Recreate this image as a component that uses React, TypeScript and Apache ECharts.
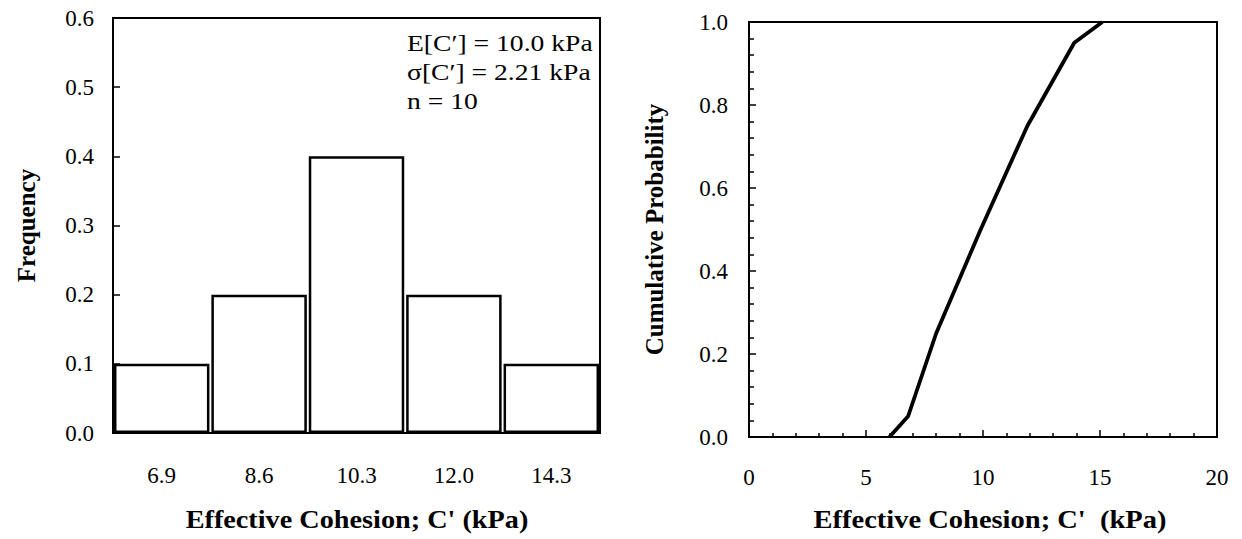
import React, { useEffect, useRef } from "react";
import * as echarts from "echarts";

const binLabels = ["6.9", "8.6", "10.3", "12.0", "14.3"];
const frequencies = [0.1, 0.2, 0.4, 0.2, 0.1];
const cdfX = [6.0, 6.8, 8.0, 9.9, 11.9, 13.9, 15.1];
const cdfY = [0.0, 0.05, 0.25, 0.5, 0.75, 0.95, 1.0];
const statLines = ["E[C′] = 10.0 kPa", "σ[C′] = 2.21 kPa", "n = 10"];
const xTitle = "Effective Cohesion; C' (kPa)";
const xTitleRight = "Effective Cohesion; C'  (kPa)";

const FONT = '"Liberation Serif", "Times New Roman", serif';

export default function App() {
  const ref = useRef<HTMLDivElement>(null);
  useEffect(() => {
    if (!ref.current) return;
    const chart = echarts.init(ref.current, undefined, { renderer: "svg" });
    const axisLine = { show: true, lineStyle: { color: "#000", width: 2 } };
    const tickLabel = { color: "#000", fontFamily: FONT, fontSize: 23 };
    const nameStyle = { color: "#000", fontFamily: FONT, fontSize: 25, fontWeight: "bold" as const };
    const gx = [
      { left: 113, top: 18, width: 487, height: 415 },
      { left: 749, top: 22, width: 468, height: 415 },
    ];
    chart.setOption({
      animation: false,
      backgroundColor: "#fff",
      grid: gx.map((g) => ({ ...g, show: true, borderColor: "#000", borderWidth: 2, backgroundColor: "transparent" })),
      xAxis: [
        {
          gridIndex: 0,
          type: "category",
          data: binLabels,
          boundaryGap: true,
          axisLine,
          axisTick: { show: true, inside: true, alignWithLabel: true, length: 5, lineStyle: { color: "#000", width: 1.5 } },
          axisLabel: { ...tickLabel, margin: 31 },
          splitLine: { show: false },
        },
        {
          gridIndex: 1,
          type: "value",
          min: 0,
          max: 20,
          interval: 5,
          axisLine,
          axisTick: { show: true, inside: true, length: 7, lineStyle: { color: "#000", width: 1.5 } },
          minorTick: { show: true, splitNumber: 5, length: 4, lineStyle: { color: "#000", width: 1.5 } },
          axisLabel: { ...tickLabel, margin: 29 },
          splitLine: { show: false },
          minorSplitLine: { show: false },
        },
      ],
      yAxis: [
        {
          gridIndex: 0,
          type: "value",
          min: 0,
          max: 0.6,
          interval: 0.1,
          axisLine,
          axisTick: { show: true, inside: true, length: 7, lineStyle: { color: "#000", width: 1.5 } },
          axisLabel: { ...tickLabel, margin: 19, formatter: (v: number) => v.toFixed(1) },
          splitLine: { show: false },
          name: "Frequency",
          nameLocation: "middle",
          nameGap: 74,
          nameTextStyle: nameStyle,
        },
        {
          gridIndex: 1,
          type: "value",
          min: 0,
          max: 1,
          interval: 0.2,
          axisLine,
          axisTick: { show: true, inside: true, length: 7, lineStyle: { color: "#000", width: 1.5 } },
          minorTick: { show: true, splitNumber: 5, length: 5, lineStyle: { color: "#000", width: 1.5 } },
          axisLabel: { ...tickLabel, margin: 21, formatter: (v: number) => v.toFixed(1) },
          splitLine: { show: false },
          minorSplitLine: { show: false },
          name: "Cumulative Probability",
          nameLocation: "middle",
          nameGap: 82,
          nameTextStyle: nameStyle,
        },
      ],
      series: [
        {
          type: "bar",
          xAxisIndex: 0,
          yAxisIndex: 0,
          data: frequencies,
          barCategoryGap: "2%",
          itemStyle: { color: "#fff", borderColor: "#000", borderWidth: 2.5 },
        },
        {
          type: "line",
          xAxisIndex: 1,
          yAxisIndex: 1,
          data: cdfX.map((x, i) => [x, cdfY[i]]),
          showSymbol: false,
          symbol: "none",
          lineStyle: { color: "#000", width: 3.8 },
        },
      ],
      graphic: [
        ...statLines.map((t, i) => ({
          type: "text",
          x: 407,
          y: 43 + i * 29,
          scaleX: 1.15,
          style: { text: t, fill: "#000", font: `24px ${FONT}`, align: "left", verticalAlign: "middle" },
        })),
        {
          type: "text",
          x: 357,
          y: 520,
          scaleX: 1.13,
          style: { text: xTitle, fill: "#000", font: `bold 25px ${FONT}`, align: "center", verticalAlign: "middle" },
        },
        {
          type: "text",
          x: 990,
          y: 520,
          scaleX: 1.14,
          style: { text: xTitleRight, fill: "#000", font: `bold 25px ${FONT}`, align: "center", verticalAlign: "middle" },
        },
      ],
    });
    return () => chart.dispose();
  }, []);
  return (
    <div
      ref={ref}
      style={{ position: "fixed", left: 0, top: 0, width: 1242, height: 539, background: "#fff" }}
    />
  );
}
